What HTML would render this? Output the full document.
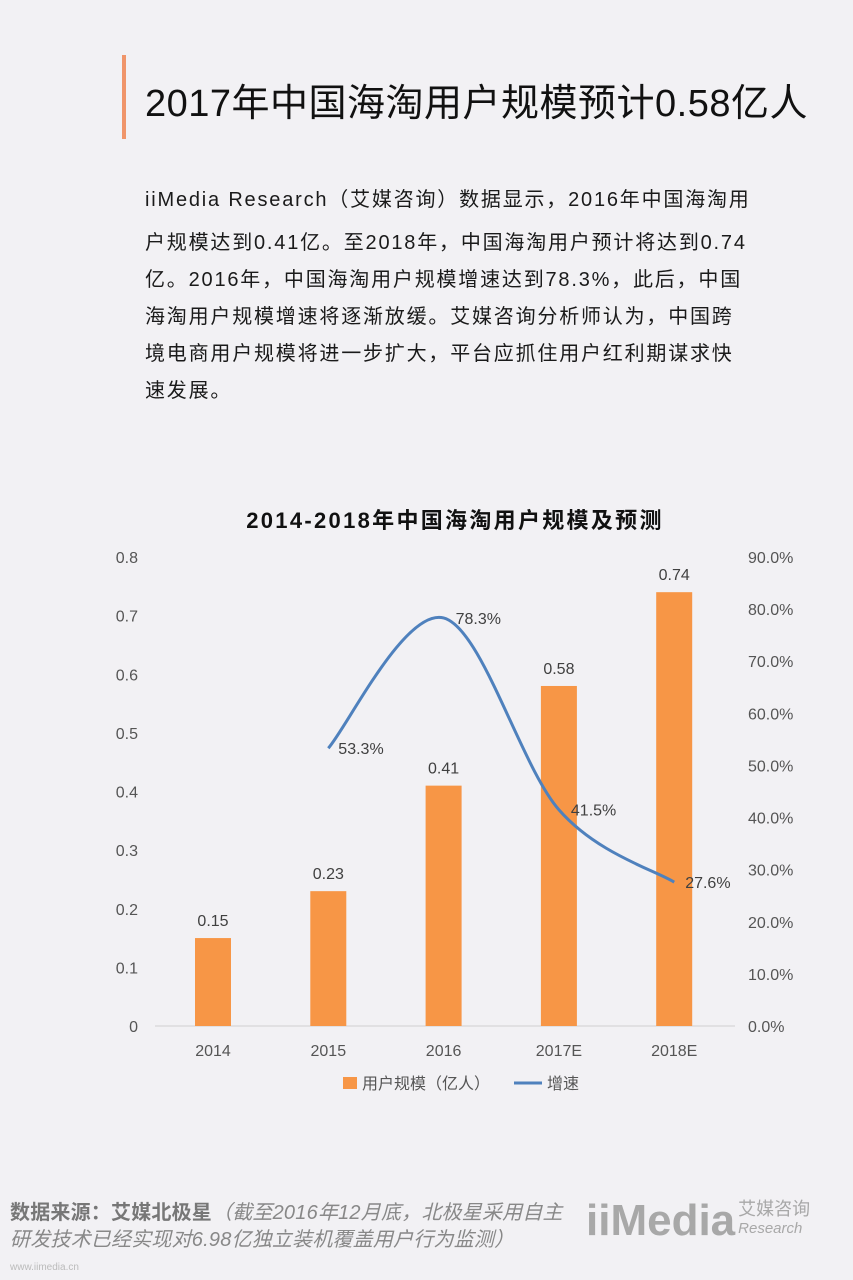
<!DOCTYPE html>
<html><head><meta charset="utf-8">
<style>
body{margin:0;background:#f2f1f4;}
#page{position:relative;width:853px;height:1280px;background:#f2f1f4;overflow:hidden;font-family:"Liberation Sans","Noto Sans CJK SC",sans-serif;}
.p{position:absolute;left:145px;font-size:20px;letter-spacing:1.8px;color:#1a1a1a;white-space:nowrap;}
</style></head><body>
<div id="page">
<div style="position:absolute;left:122px;top:55px;width:4px;height:84px;background:#f0956a;"></div>
<div style="position:absolute;left:145px;top:72px;font-size:38px;letter-spacing:0.5px;color:#111;white-space:nowrap;">2017年中国海淘用户规模预计0.58亿人</div>
<div>
<div class="p" style="top:183px">iiMedia Research（艾媒咨询）数据显示，2016年中国海淘用</div>
<div class="p" style="top:226px">户规模达到0.41亿。至2018年，中国海淘用户预计将达到0.74</div>
<div class="p" style="top:263px">亿。2016年，中国海淘用户规模增速达到78.3%，此后，中国</div>
<div class="p" style="top:300px">海淘用户规模增速将逐渐放缓。艾媒咨询分析师认为，中国跨</div>
<div class="p" style="top:337px">境电商用户规模将进一步扩大，平台应抓住用户红利期谋求快</div>
<div class="p" style="top:374px">速发展。</div>
</div>
<svg id="chart" width="853" height="1280" style="position:absolute;left:0;top:0" font-family="Liberation Sans, Noto Sans CJK SC, sans-serif"></svg>
<div style="position:absolute;left:10px;top:1200px;font-size:20px;letter-spacing:0.2px;color:#888;line-height:27px;white-space:nowrap;"><b style="color:#777">数据来源：艾媒北极星</b><i>（截至2016年12月底，北极星采用自主<br>研发技术已经实现对6.98亿独立装机覆盖用户行为监测）</i></div>
<div style="position:absolute;left:10px;top:1262px;font-size:10px;color:#bbb;">www.iimedia.cn</div>
<div style="position:absolute;left:586px;top:1196px;color:#a8a8a8;white-space:nowrap;">
<span style="font-size:44px;font-weight:bold;">iiMedia</span><span style="display:inline-block;font-size:18px;line-height:18px;vertical-align:2px;margin-left:3px;">艾媒咨询<br><i style="font-size:15px">Research</i></span></div>
</div>
<script>
const categories=["2014","2015","2016","2017E","2018E"];
const users=[0.15,0.23,0.41,0.58,0.74];
const growth=[null,53.3,78.3,41.5,27.6];
const leftTicks=[0,0.1,0.2,0.3,0.4,0.5,0.6,0.7,0.8];
const rightTicks=[0,10,20,30,40,50,60,70,80,90];
const svg=document.getElementById('chart');const NS='http://www.w3.org/2000/svg';
function mk(t,a,txt){const e=document.createElementNS(NS,t);for(const k in a)e.setAttribute(k,a[k]);if(txt!=null)e.textContent=txt;svg.appendChild(e);return e;}
const y0=1026,y1=557,x0=155,step=115.3,firstX=213;
const yL=v=>y0-(v/0.8)*(y0-y1);
const yR=v=>y0-(v/90)*(y0-y1);
const xC=i=>firstX+i*step;
let t=mk('text',{x:455,y:528,'text-anchor':'middle','font-size':22,'letter-spacing':'2.3','font-weight':'bold',fill:'#111'},'2014-2018年中国海淘用户规模及预测');

let ax=mk('line',{x1:x0,x2:735,y1:y0,y2:y0,stroke:'#d0d0d0'});

leftTicks.forEach(v=>{const e=mk('text',{x:138,y:yL(v)+6,'text-anchor':'end','font-size':16,fill:'#555'},String(v));
});
rightTicks.forEach(v=>{const e=mk('text',{x:748,y:yR(v)+6,'font-size':16,fill:'#555'},v.toFixed(1)+'%');
});
categories.forEach((c,i)=>{const e=mk('text',{x:xC(i),y:1056,'text-anchor':'middle','font-size':16,fill:'#555'},c);

const b=mk('rect',{x:xC(i)-18,y:yL(users[i]),width:36,height:y0-yL(users[i]),fill:'#f79646'});

const l=mk('text',{x:xC(i),y:yL(users[i])-12,'text-anchor':'middle','font-size':16,fill:'#404040'},String(users[i]));
});
const pts=[];growth.forEach((g,i)=>{if(g!=null)pts.push([xC(i),yR(g)]);});
let d='M'+pts[0][0]+','+pts[0][1];
for(let i=0;i<pts.length-1;i++){const p0=pts[Math.max(i-1,0)],p1=pts[i],p2=pts[i+1],p3=pts[Math.min(i+2,pts.length-1)];
const k=1/6;d+=' C'+(p1[0]+(p2[0]-p0[0])*k)+','+(p1[1]+(p2[1]-p0[1])*k)+' '+(p2[0]-(p3[0]-p1[0])*k)+','+(p2[1]-(p3[1]-p1[1])*k)+' '+p2[0]+','+p2[1];}
const ln=mk('path',{d:d,fill:'none',stroke:'#4f81bd','stroke-width':3});

growth.forEach((g,i)=>{if(g==null)return;const e=mk('text',{x:xC(i)+(i==4?11:i==1?10:12),y:yR(g)+6,'font-size':16,fill:'#404040'},g.toFixed(1)+'%');
});
let r=mk('rect',{x:343,y:1077,width:14,height:12,fill:'#f79646'});

let lt=mk('text',{x:362,y:1089,'font-size':16,fill:'#555'},'用户规模（亿人）');

let ll=mk('line',{x1:514,x2:542,y1:1083,y2:1083,stroke:'#4f81bd','stroke-width':3});

let lg=mk('text',{x:547,y:1089,'font-size':16,fill:'#555'},'增速');

</script>
</body></html>
